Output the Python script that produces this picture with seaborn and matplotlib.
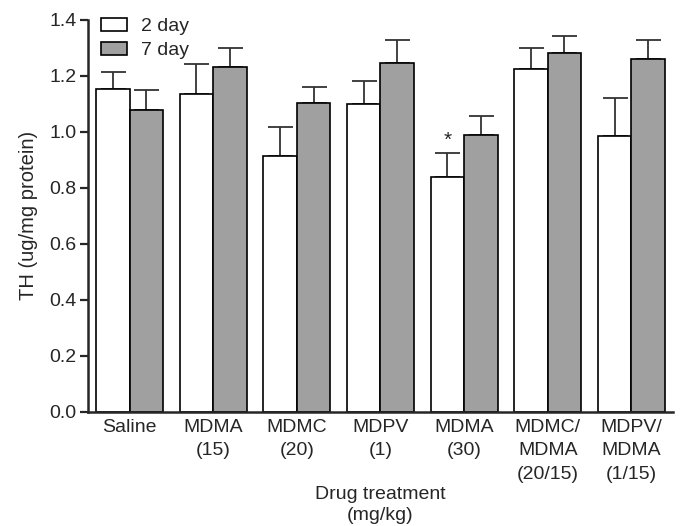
import numpy as np
import pandas as pd
import matplotlib
matplotlib.use("Agg")
import matplotlib.pyplot as plt
import seaborn as sns

groups = ["Saline", "MDMA\n(15)", "MDMC\n(20)", "MDPV\n(1)", "MDMA\n(30)",
          "MDMC/\nMDMA\n(20/15)", "MDPV/\nMDMA\n(1/15)"]
day2_mean = [1.155, 1.135, 0.914, 1.099, 0.838, 1.224, 0.985]
day2_sem = [0.060, 0.108, 0.104, 0.083, 0.087, 0.076, 0.136]
day7_mean = [1.080, 1.231, 1.102, 1.245, 0.990, 1.281, 1.259]
day7_sem = [0.070, 0.068, 0.060, 0.085, 0.068, 0.061, 0.068]
series = ["2 day", "7 day"]

df = pd.DataFrame({
    "group": groups * 2,
    "day": [series[0]] * len(groups) + [series[1]] * len(groups),
    "th": day2_mean + day7_mean,
    "sem": day2_sem + day7_sem,
})

sns.set_style("ticks")
plt.rcParams["font.family"] = ["Liberation Sans", "DejaVu Sans"]

fig = plt.figure(figsize=(6.8, 5.26), dpi=100)
ax = fig.add_axes([0.129, 0.217, 0.861, 0.745])

sns.barplot(data=df, x="group", y="th", hue="day", order=groups,
            hue_order=series, palette=["white", "#a0a0a0"],
            edgecolor="black", linewidth=1.2, width=0.8, errorbar=None,
            saturation=1, ax=ax)

# upper error bars only
for cont, name in zip(ax.containers, series):
    sub = df[df["day"] == name].set_index("group").loc[groups]
    xs = [p.get_x() + p.get_width() / 2 for p in cont.patches]
    ax.errorbar(xs, sub["th"], yerr=[np.zeros(len(groups)), sub["sem"]],
                fmt="none", ecolor="#333333", elinewidth=1.3, capsize=9,
                capthick=1.3, zorder=1)
    for p in cont.patches:
        p.set_zorder(2)

# significance marker
star_bar = ax.containers[0].patches[4]
ax.text(star_bar.get_x() + star_bar.get_width() / 2, 0.925 + 0.012, "*",
        ha="center", va="bottom", fontsize=15)

ax.set_ylim(0, 1.4)
ax.set_xlim(-0.5, len(groups) - 0.5)
ax.set_yticks(np.arange(0, 1.41, 0.2))
ax.set_yticklabels([f"{v:.1f}" for v in np.arange(0, 1.41, 0.2)], fontsize=14)
ax.tick_params(axis="x", length=0, labelsize=14, pad=5)
ax.tick_params(axis="y", length=6, width=1.6, pad=2)
for lbl in ax.get_xticklabels():
    lbl.set_linespacing(1.5)
ax.set_ylabel("TH (ug/mg protein)", fontsize=14.5, labelpad=8)
ax.set_xlabel("Drug treatment\n(mg/kg)", fontsize=14, labelpad=2,
              linespacing=1.35)
sns.despine(ax=ax)
ax.spines["left"].set_linewidth(1.8)
ax.spines["bottom"].set_linewidth(1.8)

ax.legend(loc="upper left", bbox_to_anchor=(0.022, 1.005), frameon=False,
          fontsize=14, handlelength=1.35, handleheight=0.65,
          handletextpad=0.75, labelspacing=0.32, borderpad=0,
          borderaxespad=0)

fig.savefig("out.png", dpi=100)
